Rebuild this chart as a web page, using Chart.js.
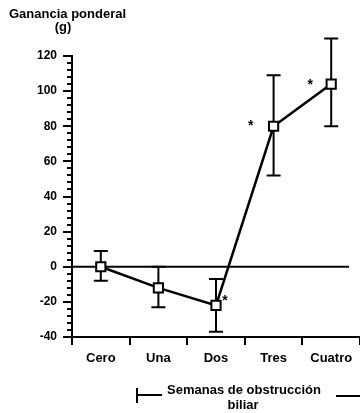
<!DOCTYPE html>
<html>
<head>
<meta charset="utf-8">
<script src="https://cdn.jsdelivr.net/npm/chart.js@4/dist/chart.umd.min.js"></script>
<style>
  html, body { margin: 0; padding: 0; background: #fff; }
  #wrap { width: 360px; height: 413px; position: relative; }
</style>
</head>
<body>
<div id="wrap"><canvas id="myChart"></canvas></div>
<script>
"use strict";

// weight gain (g) per week of biliary obstruction
var weeks = ["Cero", "Una", "Dos", "Tres", "Cuatro"];
var meanGain = [0, -12, -22, 80, 104];
var errUpper = [9, 0, -7, 109, 130];
var errLower = [-8, -23, -37, 52, 80];
var significant = [false, false, true, true, true];
var yTicks = [-40, -20, 0, 20, 40, 60, 80, 100, 120];

var FONT = "'Liberation Sans', Arial, Helvetica, sans-serif";

// asterisk offsets next to each point, in pixels
var starOffset = [null, null, [9, -7], [-23, -3], [-21, -2]];

var extras = {
  id: "extras",
  beforeDatasetsDraw: function (chart) {
    var ctx = chart.ctx;
    var x = chart.scales.x;
    var y = chart.scales.y;
    var area = chart.chartArea;
    ctx.save();
    ctx.strokeStyle = "#000";
    ctx.lineCap = "butt";

    // zero line
    ctx.lineWidth = 2;
    ctx.beginPath();
    ctx.moveTo(area.left, y.getPixelForValue(0));
    ctx.lineTo(area.right - 11, y.getPixelForValue(0));
    ctx.stroke();

    // minor ticks on the y axis
    ctx.lineWidth = 2;
    for (var v = -40; v <= 120; v += 4) {
      if (v % 20 === 0) continue;
      var py = Math.round(y.getPixelForValue(v));
      ctx.beginPath();
      ctx.moveTo(area.left - 5, py);
      ctx.lineTo(area.left, py);
      ctx.stroke();
    }

    // error bars
    ctx.lineWidth = 2;
    for (var i = 0; i < weeks.length; i++) {
      var px = x.getPixelForValue(i);
      var top = y.getPixelForValue(errUpper[i]);
      var bot = y.getPixelForValue(errLower[i]);
      ctx.beginPath();
      ctx.moveTo(px, top);
      ctx.lineTo(px, bot);
      ctx.moveTo(px - 7, top);
      ctx.lineTo(px + 7, top);
      ctx.moveTo(px - 7, bot);
      ctx.lineTo(px + 7, bot);
      ctx.stroke();
    }
    ctx.restore();
  },
  afterDraw: function (chart) {
    var ctx = chart.ctx;
    var x = chart.scales.x;
    var y = chart.scales.y;
    ctx.save();
    ctx.fillStyle = "#000";
    ctx.strokeStyle = "#000";

    // significance marks
    ctx.font = "bold 14px " + FONT;
    ctx.textAlign = "center";
    ctx.textBaseline = "middle";
    for (var i = 0; i < weeks.length; i++) {
      if (!significant[i]) continue;
      var px = x.getPixelForValue(i) + starOffset[i][0];
      var py = y.getPixelForValue(meanGain[i]) + starOffset[i][1];
      ctx.fillText("*", px, py + 3);
    }

    // y axis title
    ctx.font = "bold 13px " + FONT;
    ctx.textAlign = "left";
    ctx.textBaseline = "alphabetic";
    ctx.fillText("Ganancia ponderal", 9, 18);
    ctx.textAlign = "center";
    ctx.fillText("(g)", 63, 31);

    // x axis title with bracket
    ctx.font = "bold 13px " + FONT;
    ctx.fillText("Semanas de obstrucción", 244, 394);
    ctx.fillText("biliar", 243, 409);
    ctx.lineWidth = 2;
    ctx.beginPath();
    ctx.moveTo(137, 388);
    ctx.lineTo(137, 403);
    ctx.moveTo(137, 395);
    ctx.lineTo(162, 395);
    ctx.moveTo(336, 396);
    ctx.lineTo(360, 396);
    ctx.stroke();
    ctx.restore();
  }
};

var chart = new Chart(document.getElementById("myChart"), {
  type: "line",
  data: {
    labels: weeks,
    datasets: [
      {
        data: meanGain,
        borderColor: "#000",
        borderWidth: 2.5,
        pointStyle: "rect",
        pointRadius: 6.5,
        pointBorderWidth: 2,
        pointBackgroundColor: "#fff",
        pointBorderColor: "#000",
        tension: 0,
        clip: false
      }
    ]
  },
  options: {
    responsive: true,
    maintainAspectRatio: false,
    animation: false,
    events: [],
    layout: { autoPadding: false, padding: { top: 56, right: 0, left: 0, bottom: 0 } },
    plugins: {
      legend: { display: false },
      tooltip: { enabled: false },
      title: { display: false }
    },
    scales: {
      x: {
        type: "category",
        offset: true,
        border: { display: true, color: "#000", width: 2 },
        grid: {
          offset: true,
          drawOnChartArea: false,
          drawTicks: true,
          tickLength: 8,
          color: "#000",
          lineWidth: 2
        },
        ticks: {
          color: "#000",
          padding: 6,
          maxRotation: 0,
          font: { family: FONT, size: 13, weight: "bold" }
        },
        afterFit: function (scale) {
          scale.height = 76;
          scale.paddingLeft = 0;
          scale.paddingRight = 0;
        }
      },
      y: {
        min: -40,
        max: 120,
        afterBuildTicks: function (scale) {
          scale.ticks = yTicks.map(function (v) { return { value: v }; });
        },
        border: { display: true, color: "#000", width: 2 },
        grid: {
          drawOnChartArea: false,
          drawTicks: true,
          tickLength: 9,
          color: "#000",
          lineWidth: 2
        },
        ticks: {
          color: "#000",
          padding: 6,
          font: { family: FONT, size: 12, weight: "bold" }
        },
        afterFit: function (scale) {
          scale.width = 72;
          scale.paddingTop = 0;
          scale.paddingBottom = 0;
        }
      }
    }
  },
  plugins: [extras]
});
</script>
</body>
</html>
